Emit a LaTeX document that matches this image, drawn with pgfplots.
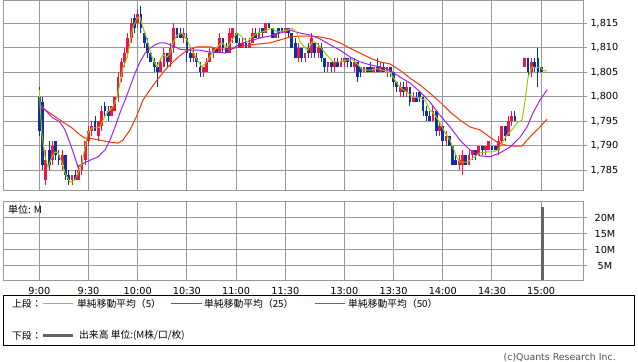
\documentclass[border=0pt]{standalone}
\usepackage{pgfplots}
\pgfplotsset{compat=1.18}
\usepackage{pgfplotstable}
\usepackage{fontspec}
\setmainfont{DejaVu Sans}
\newfontfamily\jp{Noto Sans CJK JP}
\definecolor{upc}{RGB}{240,20,70}
\definecolor{dnc}{RGB}{10,50,160}
\definecolor{maA}{RGB}{153,204,0}
\definecolor{maB}{RGB}{160,32,240}
\definecolor{maC}{RGB}{255,51,0}
\definecolor{gridc}{RGB}{153,153,153}
\definecolor{volc}{RGB}{100,100,100}

\pgfplotstableread{
t o h l c
0 1800 1802 1792 1793
2 1799 1800 1785 1786
4 1783 1789 1782 1787
6 1789 1791 1785 1786
8 1787 1791 1786 1790
10 1791 1791 1787 1788
12 1788 1789 1786 1787
14 1786 1789 1785 1788
16 1788 1788 1783 1784
18 1784 1785 1782 1783
20 1783 1784 1782 1784
22 1784 1785 1783 1783
24 1783 1786 1783 1785
26 1785 1788 1784 1787
28 1787 1791 1786 1791
30 1791 1794 1790 1793
32 1793 1795 1792 1794
34 1795 1796 1793 1793
36 1792 1795 1791 1795
38 1794 1798 1793 1797
40 1798 1799 1796 1797
42 1797 1798 1795 1796
44 1796 1798 1796 1798
46 1797 1800 1797 1800
48 1800 1805 1799 1804
50 1804 1808 1803 1807
52 1807 1810 1806 1809
54 1809 1813 1808 1812
56 1812 1816 1811 1815
58 1816 1817 1813 1814
60 1815 1818 1814 1817
62 1817 1818.5 1813 1814
64 1813 1813 1810 1811
66 1811 1812 1808 1809
68 1809 1809 1807 1807
70 1807 1808 1805 1806
72 1806 1807 1802 1805
74 1805 1808 1805 1807
76 1806 1810 1806 1809
78 1809 1809 1806 1807
80 1807 1811 1806 1810
82 1810 1815 1809 1814
84 1814 1814 1812 1812
86 1813 1814 1812 1812
88 1812 1814 1811 1813
90 1812 1813 1807 1809
92 1809 1810 1807 1808
94 1808 1810 1807 1809
96 1808 1809 1806 1807
98 1806 1807 1804 1805
100 1805 1806 1804 1806
102 1805 1808 1805 1807
104 1807 1810 1807 1809
106 1809 1810 1808 1810
108 1810 1810 1809 1809
110 1809 1813 1809 1812
112 1812 1812 1809 1810
114 1810 1811 1809 1809
116 1809 1814 1809 1813
118 1812 1814 1811 1814
120 1813 1813 1811 1811
122 1811 1812 1810 1810
124 1810 1812 1810 1811
126 1811 1812 1810 1810
128 1810 1812 1810 1811
130 1811 1814 1811 1813
132 1813 1814 1812 1812
134 1812 1814 1812 1813
136 1814 1814 1812 1813
138 1813 1815 1813 1815
140 1815 1815 1814 1814
142 1814 1814 1812 1812
144 1812 1813 1812 1813
146 1814 1814 1812 1813
148 1814 1814 1813 1813
150 1813 1814 1813 1814
152 1814 1814 1812 1813
154 1813 1813 1810 1810
156 1811 1812 1808 1808
158 1808 1811 1807 1810
160 1810 1810 1807 1808
162 1808 1809 1807 1809
164 1810 1811 1808 1809
166 1809 1813 1808 1812
168 1811 1811 1808 1809
170 1809 1811 1808 1810
172 1810 1811 1807 1808
174 1808 1808 1805 1806
176 1806 1807 1805 1807
178 1807 1807 1805 1806
180 1806 1808 1805 1807
182 1807 1808 1806 1806
184 1806 1808 1806 1807
186 1807 1808 1806 1808
188 1808 1808 1806 1807
190 1807 1808 1806 1806
192 1806 1808 1805 1807
194 1807 1807 1803 1804
196 1806 1806 1804 1805
198 1805 1806 1805 1806
200 1806 1806 1805 1805
202 1806 1807 1805 1805
204 1805 1806 1805 1806
206 1806 1808 1805 1805
208 1805 1807 1805 1806
210 1806 1807 1805 1805
212 1805 1806 1804 1806
214 1806 1806 1804 1805
216 1805 1805 1802 1803
218 1803 1803 1801 1802
220 1801 1803 1800 1802
222 1802 1803 1800 1801
224 1801 1803 1800 1802
226 1802 1802 1798 1799
228 1799 1801 1799 1800
230 1800 1801 1799 1799
232 1801 1801 1799 1800
234 1800 1800 1796 1797
236 1797 1798 1795 1796
238 1796 1797 1795 1795
240 1795 1798 1795 1797
242 1797 1797 1792 1793
244 1793 1795 1792 1794
246 1794 1794 1790 1791
248 1791 1793 1790 1792
250 1792 1792 1790 1790
252 1790 1790 1786 1786
254 1787 1788 1786 1786
256 1786 1788 1785 1787
258 1786 1789 1784 1788
260 1788 1788 1786 1786
262 1786 1789 1786 1788
264 1788 1789 1787 1789
266 1789 1789 1787 1788
268 1788 1790 1788 1790
270 1790 1790 1788 1789
272 1789 1790 1788 1790
274 1789 1791 1789 1791
276 1790 1790 1789 1789
278 1790 1790 1789 1789
280 1789 1792 1788 1791
282 1791 1794 1790 1794
284 1794 1794 1791 1792
286 1792 1796 1792 1795
288 1795 1797 1794 1796
290 1796 1797 1795 1795
296 1806 1808 1806 1808
298 1808 1808 1804 1805
300 1805 1808 1804 1807
302 1807 1808 1805 1806
304 1808 1810 1802 1805
306 1806 1806 1805 1805
}\candles

\pgfplotstableread{
t p
0 1801.4
1.5 1792.6
3.5 1787.7
5.3 1785.6
7.7 1787.7
9.6 1788.7
11.4 1788.5
13.8 1786.6
15.7 1784.4
18.7 1782.5
21.8 1783.0
23.6 1784.4
26.0 1786.4
27.9 1789.7
29.7 1792.6
32.1 1793.6
35.2 1793.6
37.0 1793.8
38.8 1795.2
41.3 1796.7
43.1 1797.3
44.9 1797.9
47.4 1799.9
49.2 1802.8
51.0 1805.9
53.5 1807.9
55.3 1811.0
57.1 1814.2
59.6 1816.1
61.4 1816.3
63.2 1814.2
65.7 1811.6
67.5 1809.5
69.3 1807.5
71.8 1806.1
73.6 1807.5
75.4 1808.5
77.9 1808.1
79.7 1808.9
81.5 1811.0
84.0 1812.6
87.0 1813.0
90.1 1811.6
93.1 1809.5
96.2 1807.5
99.2 1806.1
102.3 1807.1
105.3 1808.9
108.4 1810.2
111.4 1811.0
114.5 1810.0
117.5 1811.6
120.6 1813.0
123.6 1812.2
126.7 1811.2
129.7 1812.2
132.7 1813.0
135.8 1813.2
138.8 1813.6
141.9 1814.0
144.9 1813.2
148.0 1813.4
151.0 1813.6
154.1 1814.0
157.1 1813.0
159.0 1811.2
162.0 1810.0
163.8 1809.5
166.3 1811.2
168.1 1811.2
171.2 1810.2
175.4 1808.5
179.1 1807.1
183.4 1807.1
187.6 1807.5
191.3 1807.5
194.3 1806.5
197.4 1805.4
201.7 1805.4
205.9 1805.7
209.6 1805.4
213.8 1805.0
215.7 1804.0
218.7 1802.4
221.8 1801.4
224.8 1800.7
227.9 1799.9
232.1 1799.7
235.2 1799.3
238.2 1797.3
241.3 1796.2
244.3 1794.6
247.4 1792.6
250.4 1791.1
252.3 1789.5
254.7 1787.5
256.5 1786.6
260.8 1786.6
264.5 1787.5
268.7 1788.5
273.0 1788.7
276.7 1788.7
279.7 1789.1
282.1 1790.5
285.2 1792.2
288.2 1793.2
291.3 1794.6
294.3 1795.2
296.2 1799.3
298.0 1804.0
300.4 1806.1
302.3 1805.9
305.3 1806.1
307.1 1805.4
309.6 1805.2
}\maA

\pgfplotstableread{
t p
0 1798.7
3.5 1797.3
7.7 1795.8
12.6 1794.8
15.7 1793.2
18.7 1790.5
21.2 1788.1
23.6 1785.6
24.8 1786.0
30.9 1787.0
35.8 1787.7
40.1 1789.1
43.1 1791.1
46.2 1793.8
49.2 1796.7
52.3 1799.3
55.3 1802.0
58.4 1804.8
61.4 1807.1
64.5 1808.9
67.5 1809.9
70.6 1810.6
73.6 1811.0
76.7 1811.0
79.7 1810.6
82.7 1810.2
85.8 1809.7
91.9 1809.5
98.0 1809.5
104.1 1809.1
110.2 1809.1
113.2 1808.9
116.3 1809.5
122.4 1810.8
128.5 1811.4
134.6 1812.0
140.7 1812.4
146.8 1813.0
152.9 1813.6
159.0 1813.0
165.1 1812.6
171.2 1811.8
177.3 1810.6
183.4 1809.5
189.5 1808.1
195.6 1807.1
201.7 1806.5
207.7 1806.1
213.8 1805.4
219.9 1804.0
226.0 1802.8
232.1 1801.0
238.2 1798.9
244.3 1796.2
250.4 1793.8
256.5 1791.1
262.6 1789.1
268.7 1787.9
274.8 1787.7
280.9 1788.5
287.0 1789.7
293.1 1791.7
297.4 1793.8
301.0 1796.7
305.3 1799.3
309.6 1801.4
}\maB

\pgfplotstableread{
t p
0 1798.1
8.4 1796.2
14.5 1794.8
19.9 1793.6
24.8 1792.2
27.9 1791.5
30.9 1791.5
37.0 1791.1
43.1 1790.7
48.0 1790.5
51.0 1791.1
55.3 1793.2
59.6 1796.2
63.2 1799.3
67.5 1801.4
71.8 1803.4
77.9 1805.9
84.0 1807.9
90.1 1809.5
96.2 1810.2
104.1 1810.2
110.2 1809.7
116.3 1809.7
122.4 1810.2
128.5 1810.6
134.6 1810.8
140.7 1811.0
146.8 1811.6
152.9 1812.2
159.0 1812.4
165.1 1812.4
171.2 1812.2
177.3 1811.8
183.4 1811.0
189.5 1809.9
195.6 1808.9
201.7 1807.9
207.7 1807.1
213.8 1806.7
219.9 1805.4
226.0 1803.8
232.1 1802.4
238.2 1800.7
244.3 1798.9
250.4 1796.9
256.5 1795.2
262.6 1793.8
268.7 1793.2
274.8 1791.7
279.1 1790.7
284.0 1790.1
288.8 1789.9
294.3 1789.9
297.4 1791.1
301.0 1792.4
305.3 1793.8
309.6 1795.4
}\maC

\begin{document}
\begin{tikzpicture}
\path[use as bounding box] (0,0) rectangle (638bp,-362bp);
\pgfplotsset{
  common/.style={
    scale only axis, width=580bp,
    xmin=-22.13, xmax=331.5,
    xtick={0,30,60,90,120,150,186,216,246,276,306},
    grid=major, grid style={gridc, line width=1bp},
    axis line style={gridc, line width=1bp},
    xtick style={draw=none},
    ytick style={gridc, line width=1bp},
    major tick length=4bp, tick align=outside,
    ytick pos=right, yticklabel pos=right,
    tick label style={font=\fontsize{9.7bp}{11bp}\selectfont, text=black},
    /pgf/number format/assume math mode=true,
  },
  wick/.style={draw=none, mark=none,
    error bars/.cd, y dir=plus, y explicit, error mark=none,
    error bar style={line width=1bp, draw=#1}},
  body/.style={draw=none, mark=none,
    error bars/.cd, y dir=both, y explicit, error mark=none,
    error bar style={line width=2.8bp, draw=#1}},
}
\begin{axis}[common, at={(3bp,-190.5bp)}, anchor=south west, height=190bp,
  ymin=1780.81, ymax=1819.66,
  ytick={1785,1790,1795,1800,1805,1810,1815},
  xticklabels={},
  /pgf/number format/1000 sep={,},
]
% wicks
\addplot[restrict expr to domain={\thisrow{c}-\thisrow{o}}{0:1000}, wick=upc]
  table[x=t, y=l, y error expr=\thisrow{h}-\thisrow{l}] {\candles};
\addplot[restrict expr to domain={\thisrow{c}-\thisrow{o}}{-1000:-0.001}, wick=dnc]
  table[x=t, y=l, y error expr=\thisrow{h}-\thisrow{l}] {\candles};
% bodies
\addplot[restrict expr to domain={\thisrow{c}-\thisrow{o}}{0:1000}, body=upc]
  table[x=t, y expr=(\thisrow{o}+\thisrow{c})/2, y error expr={max(abs(\thisrow{c}-\thisrow{o})/2,0.15)}] {\candles};
\addplot[restrict expr to domain={\thisrow{c}-\thisrow{o}}{-1000:-0.001}, body=dnc]
  table[x=t, y expr=(\thisrow{o}+\thisrow{c})/2, y error expr={max(abs(\thisrow{c}-\thisrow{o})/2,0.15)}] {\candles};
% moving averages
\addplot[maC, line width=1bp, mark=none] table[x=t, y=p] {\maC};
\addplot[maB, line width=1bp, mark=none] table[x=t, y=p] {\maB};
\addplot[maA, line width=1bp, mark=none] table[x=t, y=p] {\maA};
\end{axis}

\begin{axis}[common, at={(3bp,-280bp)}, anchor=south west, height=79bp,
  ymin=0.5, ymax=25.2,
  ytick={5,10,15,20}, yticklabels={5M,10M,15M,20M},
  yticklabel style={anchor=center, xshift=18bp},
  xticklabels={9:00,9:30,10:00,10:30,11:00,11:30,13:00,13:30,14:00,14:30,15:00},
]
\addplot[ybar, bar width=3bp, fill=volc, draw=none] coordinates {(306.5,23.3)};
\end{axis}

\node[anchor=west, inner sep=0pt, font=\jp\fontsize{10bp}{11bp}\selectfont] at (8bp,-210bp) {単位: M};

% legend box
\draw[black, line width=1bp] (3.5bp,-295bp) rectangle (634.5bp,-345bp);
\begin{scope}[every node/.style={anchor=west, inner sep=0pt, font=\jp\fontsize{9.8bp}{11bp}\selectfont}]
\node at (12bp,-303.3bp) {上段：};
\draw[maA, line width=1bp] (43bp,-303.3bp) -- (73bp,-303.3bp);
\node at (77bp,-303.3bp) {単純移動平均（5）};
\draw[maB, line width=1bp] (171bp,-303.3bp) -- (202bp,-303.3bp);
\node at (204bp,-303.3bp) {単純移動平均（25）};
\draw[maC, line width=1bp] (315bp,-303.3bp) -- (345bp,-303.3bp);
\node at (348bp,-303.3bp) {単純移動平均（50）};
\node at (12bp,-335.7bp) {下段：};
\draw[volc, line width=3.5bp] (43bp,-335.7bp) -- (73bp,-335.7bp);
\node at (79bp,-335.7bp) {出来高 単位:(M株/口/枚)};
\end{scope}
\node[anchor=east, inner sep=0pt, text={rgb,255:red,80;green,80;blue,80}, font=\fontsize{9.4bp}{11bp}\selectfont] at (616bp,-357.5bp) {(c)Quants Research Inc.};
\end{tikzpicture}
\end{document}
